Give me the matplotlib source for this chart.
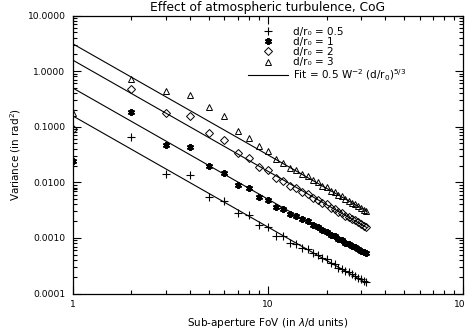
import matplotlib
matplotlib.use('Agg')
import matplotlib.pyplot as plt
from matplotlib.lines import Line2D
from matplotlib.ticker import FixedLocator, FixedFormatter, LogLocator, NullFormatter
import numpy as np

# sub-aperture FoV (lambda/d units)
fov = list(range(1, 33))

ratios = [0.5, 1, 2, 3]

var_05 = [0.0075, 0.066, 0.0139, 0.0135, 0.0055, 0.0046, 0.00284, 0.00255,
          0.00171, 0.00159, 0.0011, 0.00106, 0.00082, 0.00078, 0.00067, 0.00063,
          0.00053, 0.00050, 0.00043, 0.00041, 0.00035, 0.00034, 0.00029, 0.00028,
          0.00025, 0.00024, 0.00022, 0.00021, 0.00019, 0.00018, 0.00017, 0.00016]
var_1 = [0.0245, 0.186, 0.047, 0.044, 0.0193, 0.0145, 0.0089, 0.0080,
         0.0055, 0.0049, 0.00355, 0.0033, 0.00266, 0.00248, 0.00215, 0.00200,
         0.00168, 0.00158, 0.00137, 0.00129, 0.00113, 0.00107, 0.00096, 0.00091,
         0.00082, 0.00078, 0.00071, 0.00068, 0.00062, 0.00059, 0.00055, 0.00053]
var_2 = [0.09, 0.47, 0.179, 0.156, 0.078, 0.0577, 0.0333, 0.0270,
         0.0191, 0.0166, 0.0118, 0.0107, 0.0086, 0.0080, 0.0066, 0.0062,
         0.0052, 0.0049, 0.0042, 0.0040, 0.0035, 0.0033, 0.0029, 0.0028,
         0.0025, 0.0024, 0.0022, 0.0021, 0.0019, 0.0018, 0.00166, 0.00159]
var_3 = [0.174, 0.72, 0.44, 0.37, 0.223, 0.156, 0.0847, 0.0634,
         0.045, 0.0366, 0.0262, 0.0225, 0.0179, 0.0166, 0.0140, 0.0128,
         0.0109, 0.0100, 0.0087, 0.0081, 0.0071, 0.0067, 0.0059, 0.0056,
         0.0050, 0.0047, 0.0043, 0.0041, 0.0037, 0.0035, 0.0032, 0.0030]

ytick_vals = [1e-4, 1e-3, 1e-2, 1e-1, 1, 10]
ytick_labels = ['0.0001', '0.0010', '0.0100', '0.1000', '1.0000', '10.0000']
xtick_vals = [1, 10, 100]
xtick_labels = ['1', '10', '100']

plt.rcParams['font.family'] = 'DejaVu Sans'
plt.rcParams['mathtext.fontset'] = 'dejavusans'

fig = plt.figure(figsize=(4.65, 3.32), dpi=100)
ax = fig.add_axes([72.5 / 465, 38.5 / 332, 390.5 / 465, 278 / 332])

series = [var_05, var_1, var_2, var_3]
markers = ['+', (6, 2, 0), 'D', '^']
msizes = [6, 5, 3.6, 4.8]
mews = [0.8, 1.4, 0.7, 0.7]

fx = np.array(fov, dtype=float)
for r, vals, m, ms, mw in zip(ratios, series, markers, msizes, mews):
    ax.plot(fov, vals, linestyle='none', marker=m, ms=ms, mew=mw,
            mfc='none', mec='black')
    ax.plot(fx, 0.5 * fx ** -2.0 * r ** (5.0 / 3.0), color='black', lw=0.8)

ax.set_xscale('log')
ax.set_yscale('log')
ax.set_xlim(1, 100)
ax.set_ylim(1e-4, 10)

ax.yaxis.set_major_locator(FixedLocator(ytick_vals))
ax.yaxis.set_major_formatter(FixedFormatter(ytick_labels))
ax.xaxis.set_major_locator(FixedLocator(xtick_vals))
ax.xaxis.set_major_formatter(FixedFormatter(xtick_labels))
ax.xaxis.set_minor_locator(LogLocator(base=10, subs=range(2, 10)))
ax.yaxis.set_minor_locator(LogLocator(base=10, subs=range(2, 10)))
ax.xaxis.set_minor_formatter(NullFormatter())
ax.yaxis.set_minor_formatter(NullFormatter())

ax.tick_params(which='both', direction='in', top=True, right=True,
               labelsize=6.6, width=0.8, pad=5)
ax.tick_params(which='major', length=6)
ax.tick_params(which='minor', length=3)
for s in ax.spines.values():
    s.set_linewidth(0.9)

ax.set_title('Effect of atmospheric turbulence, CoG', fontsize=8.8, pad=3)
ax.set_xlabel('Sub-aperture FoV (in $\\lambda$/d units)', fontsize=7.5, labelpad=5)
ax.set_ylabel('Variance (in rad$^2$)', fontsize=7.5, labelpad=3)

# legend: d/r0 entries as plain text with a unicode subscript
handles = []
labels = []
for r, m, ms, mw in zip(ratios, markers, msizes, mews):
    handles.append(Line2D([], [], linestyle='none', marker=m, ms=ms, mew=mw,
                          mfc='none', mec='black'))
    labels.append('d/r\u2080 = %g' % r)
handles.append(Line2D([], [], color='black', lw=0.8))
labels.append('Fit = 0.5 W$^{-2}$ (d/r$_0$)$^{5/3}$')
ax.legend(handles, labels, loc='upper left', bbox_to_anchor=(0.44, 0.975),
          frameon=False, fontsize=7.5, handlelength=3.8, handletextpad=0.5,
          labelspacing=0.02, borderaxespad=0, numpoints=1)

fig.savefig('out.png', dpi=100)
